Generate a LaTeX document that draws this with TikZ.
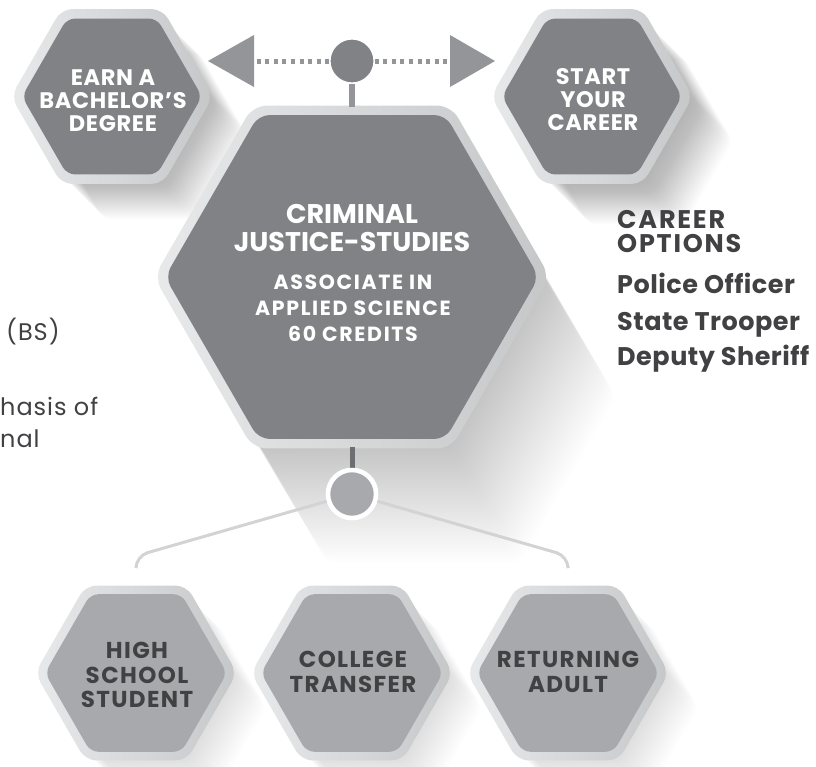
\documentclass[tikz,border=0pt]{standalone}
\usepackage{fontspec}
\setmainfont{Poppins}
\definecolor{hexdark}{HTML}{808285}
\definecolor{hexlight}{HTML}{A7A9AC}
\definecolor{rimA}{HTML}{E8E9EA}
\definecolor{rimB}{HTML}{C6C7C9}
\definecolor{txtdark}{HTML}{414042}
\definecolor{arrowgray}{HTML}{939598}
\definecolor{stemdark}{HTML}{6D6E71}
\definecolor{linegray}{HTML}{D1D3D4}
\newcommand{\hexat}[3]{({#1+#3},{#2}) -- ({#1+#3/2},{#2+0.866*#3}) -- ({#1-#3/2},{#2+0.866*#3}) -- ({#1-#3},{#2}) -- ({#1-#3/2},{#2-0.866*#3}) -- ({#1+#3/2},{#2-0.866*#3}) -- cycle}
\newcommand{\hexshadow}[7]{\foreach \k in {1,...,#6}{\fill[black,opacity=#7,rounded corners=8,shift={({\k*#4},{\k*#5})}] \hexat{#1}{#2}{#3};}}
\tikzset{
  rimshade/.style={left color=rimA, right color=rimB, rounded corners=11},
  innerdark/.style={fill=hexdark, rounded corners=8},
  innerlight/.style={fill=hexlight, rounded corners=8},
  whitetxt/.style={text=white, font=\bfseries\fontsize{22.5}{23}\selectfont\addfontfeatures{LetterSpace=3}, align=center, inner sep=0},
  bigtitle/.style={text=white, font=\bfseries\fontsize{27}{28}\selectfont, align=center, inner sep=0},
  bigsub/.style={text=white, font=\bfseries\fontsize{20.5}{26}\selectfont\addfontfeatures{LetterSpace=8}, align=center, inner sep=0},
  greytxt/.style={text=txtdark, font=\bfseries\fontsize{23}{24.5}\selectfont\addfontfeatures{LetterSpace=6}, align=center, inner sep=0},
  sidetxt/.style={text=txtdark, font=\bfseries\fontsize{25.5}{24}\selectfont\addfontfeatures{LetterSpace=2}, align=left, inner sep=0, anchor=base west},
  sidehead/.style={sidetxt, font=\bfseries\fontsize{25.5}{24}\selectfont\addfontfeatures{LetterSpace=7}},
  plaintxt/.style={text=txtdark, font=\fontsize{24}{32}\selectfont\addfontfeatures{LetterSpace=4}, align=left, inner sep=0, anchor=base west},
  dotline/.style={draw=arrowgray, line width=5, dash pattern=on 4 off 4.6},
  conn/.style={draw=linegray, line width=3, rounded corners=12},
}
\begin{document}
\begin{tikzpicture}[x=1pt,y=-1pt]
\useasboundingbox (0,0) rectangle (816,766);
% shadows
\hexshadow{112}{96.5}{96}{1}{1}{40}{0.006}
\hexshadow{592}{96.5}{96}{1}{1}{45}{0.006}
\hexshadow{352}{277}{192}{1.2}{2}{60}{0.0038}
\hexshadow{136}{673}{96}{1}{1}{35}{0.005}
\hexshadow{352}{673}{96}{1}{1}{35}{0.005}
\hexshadow{568}{673}{96}{1}{1}{35}{0.005}
% bottom hub and its connectors
\node[circle, fill=hexlight, draw=white, line width=4.5, minimum size=48, inner sep=0] (botdot) at (352,494) {};
\coordinate (lend) at (136,566);
\coordinate (rend) at (568,566);
\draw[conn] (botdot.center) -- (136,556) -- (lend);
\draw[conn] (botdot.center) -- (568,556) -- (rend);
% hexagons
\shade[rimshade] \hexat{112}{96.5}{101};
\fill[innerdark] \hexat{112}{96.5}{90};
\shade[rimshade] \hexat{592}{96.5}{101};
\fill[innerdark] \hexat{592}{96.5}{90};
\shade[rimshade,rounded corners=14] \hexat{352}{277}{198};
\fill[innerdark,rounded corners=11] \hexat{352}{277}{187};
\shade[rimshade] \hexat{136}{673}{101};
\fill[innerlight] \hexat{136}{673}{91};
\shade[rimshade] \hexat{352}{673}{101};
\fill[innerlight] \hexat{352}{673}{91};
\shade[rimshade] \hexat{568}{673}{101};
\fill[innerlight] \hexat{568}{673}{91};
% top hub, dotted connectors and arrows
\coordinate (lbase) at (254,61);
\coordinate (rbase) at (450,61);
\coordinate (ltip) at (208,61);
\coordinate (rtip) at (495,61);
\coordinate (bigtop) at (352,107);
\coordinate (bigbot) at (352,447);
\node[circle, fill=hexdark, draw=white, line width=1.2, minimum size=44, inner sep=0] (topdot) at (352,61) {};
\draw[dotline] (topdot.west) -- (lbase);
\draw[dotline] (topdot.east) -- (rbase);
\fill[arrowgray] (ltip) -- (254,35) -- (254,87) -- cycle;
\fill[arrowgray] (rtip) -- (450,35) -- (450,87) -- cycle;
\draw[arrowgray, line width=6] (topdot.south) -- (bigtop);
\draw[stemdark, line width=5] (bigbot) -- (botdot.north);
\node[circle, fill=hexlight, draw=white, line width=4.5, minimum size=48, inner sep=0] at (botdot) {};
% texts
\node[whitetxt] (earn) at (113,101) {EARN A\\BACHELOR’S\\DEGREE};
\node[whitetxt] (start) at (593,100) {START\\YOUR\\CAREER};
\node[bigtitle] (cj) at (352,228) {CRIMINAL\\JUSTICE-STUDIES};
\node[bigsub] (aas) at (353,308) {ASSOCIATE IN\\APPLIED SCIENCE\\60 CREDITS};
\node[greytxt] (hs) at (137,675) {HIGH\\SCHOOL\\STUDENT};
\node[greytxt] (ct) at (353,672) {COLLEGE\\TRANSFER};
\node[greytxt] (ra) at (568,672) {RETURNING\\ADULT};
\node[sidehead] (co) at (617,252) {CAREER\\OPTIONS};
\node[sidetxt] (po) at (617,293) {Police Officer};
\node[sidetxt] (st) at (617,330) {State Trooper};
\node[sidetxt] (ds) at (617,365) {Deputy Sheriff};
\node[plaintxt] (bs) at (6,340) {(BS)};
\node[plaintxt] (em) at (0,415) {hasis of};
\node[plaintxt] (na) at (0,447) {nal};
\end{tikzpicture}
\end{document}
